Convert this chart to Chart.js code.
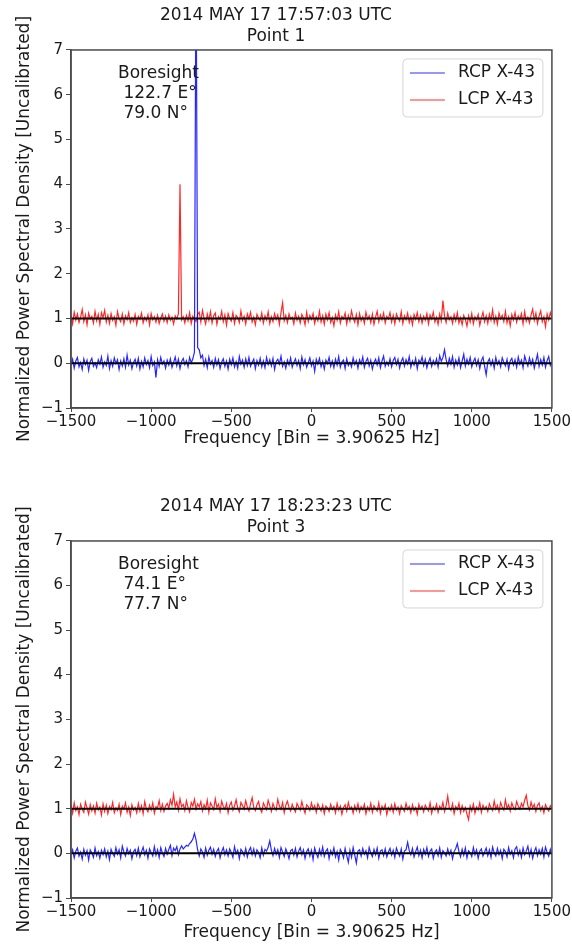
<!DOCTYPE html>
<html>
<head>
<meta charset="utf-8">
<script src="https://cdn.jsdelivr.net/npm/chart.js@4.4.1/dist/chart.umd.min.js"></script>
<style>
  body { margin: 0; background: #fff; }
  canvas { display: block; }
</style>
</head>
<body>
<canvas id="point1" width="572" height="470"></canvas>
<canvas id="point3" width="572" height="475"></canvas>
<script>
// frequency bins: -1500 .. 1500, one sample every 10 Hz
const binStart = -1500;
const binStep = 10;

const xTicks = [-1500, -1000, -500, 0, 500, 1000, 1500];
const yTicks = [-1, 0, 1, 2, 3, 4, 5, 6, 7];
const baselines = [0, 1];
const seriesLabels = ['RCP X-43', 'LCP X-43'];

const p1Title = ['2014 MAY 17 17:57:03 UTC', 'Point 1'];
const p1Boresight = ['Boresight', ' 122.7 E°', ' 79.0 N°'];
const p3Title = ['2014 MAY 17 18:23:23 UTC', 'Point 3'];
const p3Boresight = ['Boresight', ' 74.1 E°', ' 77.7 N°'];

// Point 1
const p1Rcp = [
  -0.04,0.09,-0.11,0.05,0.13,-0.08,0.02,-0.14,0.10,-0.03,0.07,-0.16,0.04,0.11,-0.07,0.01,-0.10,0.08,-0.02,0.14,
  -0.09,0.03,-0.05,0.16,-0.12,0.06,-0.07,0.12,-0.01,0.08,-0.14,0.05,-0.06,0.10,-0.09,0.18,-0.04,0.07,-0.12,0.02,
  0.09,-0.06,0.11,-0.13,0.04,-0.08,0.12,-0.03,0.06,-0.10,0.15,-0.05,0.03,-0.32,0.08,-0.07,0.13,-0.02,0.05,-0.11,
  0.07,-0.04,0.10,-0.09,0.02,0.14,-0.06,0.09,-0.12,0.04,0.11,-0.03,0.06,-0.08,0.13,0.01,0.10,0.25,9.50,0.35,
  0.30,0.12,0.18,-0.05,0.09,-0.10,0.14,-0.02,0.06,-0.09,0.11,-0.04,0.08,-0.12,0.03,0.10,-0.07,0.05,-0.13,0.09,
  -0.03,0.12,-0.08,0.04,-0.11,0.15,-0.02,0.07,-0.09,0.10,-0.05,0.13,-0.07,0.02,0.09,-0.12,0.06,-0.04,0.11,-0.08,
  0.05,-0.10,0.13,-0.03,0.08,-0.06,0.11,-0.14,0.04,0.09,-0.02,0.16,-0.07,0.03,-0.11,0.07,-0.04,0.12,-0.09,0.02,
  0.10,-0.05,0.06,-0.12,0.14,-0.03,0.08,-0.09,0.01,0.12,-0.06,0.05,-0.18,0.09,-0.02,0.11,-0.08,0.04,-0.13,0.07,
  -0.01,0.13,-0.07,0.05,-0.10,0.09,-0.04,0.15,-0.09,0.03,0.07,-0.12,0.10,-0.05,0.02,-0.08,0.12,-0.03,0.06,-0.11,
  0.08,-0.02,0.14,-0.09,0.04,0.11,-0.06,0.07,-0.13,0.02,0.09,-0.04,0.12,-0.10,0.05,0.16,-0.07,0.03,-0.05,0.10,
  -0.08,0.06,0.13,-0.03,0.09,-0.11,0.04,0.12,-0.06,0.08,-0.02,0.15,-0.09,0.05,-0.04,0.11,-0.12,0.07,0.01,0.14,
  -0.05,0.09,-0.10,0.03,0.12,-0.07,0.06,-0.03,0.10,-0.08,0.17,0.04,0.13,0.30,0.08,-0.06,0.11,-0.02,0.15,-0.09,
  0.07,-0.04,0.12,-0.10,0.05,0.20,-0.06,0.09,-0.02,0.13,-0.08,0.04,0.11,-0.05,0.08,-0.12,0.06,0.14,-0.07,-0.26,
  0.03,0.10,-0.05,0.07,-0.11,0.13,-0.03,0.06,-0.08,0.12,0.02,-0.06,0.09,-0.13,0.05,0.11,-0.04,0.08,-0.09,0.14,
  -0.02,0.07,-0.10,0.16,0.04,-0.06,0.12,-0.03,0.09,-0.11,0.05,0.20,-0.07,0.08,-0.04,0.13,-0.09,0.06,0.15,-0.05,
  0.03
];
const p1Lcp = [
  1.06,0.88,1.14,0.97,1.10,0.91,1.03,1.20,0.93,1.08,0.86,1.12,0.99,1.05,0.90,1.16,0.95,1.09,0.87,1.13,
  1.02,1.18,0.92,1.07,0.89,1.11,0.96,1.04,0.85,1.15,1.00,0.93,1.10,0.88,1.06,0.97,1.13,0.91,1.02,0.94,
  1.09,0.87,1.05,0.98,1.12,0.90,1.03,0.95,1.08,0.86,1.11,0.97,1.04,0.92,1.07,0.89,1.01,1.10,0.94,1.05,
  0.91,1.08,0.96,1.03,0.88,1.06,0.99,1.11,4.00,0.97,1.04,0.90,1.07,0.95,1.13,0.89,1.05,0.98,0.93,1.09,
  1.14,0.92,1.18,1.01,0.88,1.10,0.96,1.15,0.90,1.06,1.12,0.87,1.04,0.98,1.16,0.93,1.08,0.85,1.11,1.00,
  0.94,1.13,0.89,1.07,1.02,0.91,1.17,0.96,1.05,0.88,1.10,0.99,1.14,0.92,1.03,0.86,1.09,1.01,0.95,1.12,
  0.90,1.06,0.97,1.15,0.89,1.04,0.93,1.11,0.98,1.08,0.87,1.13,1.35,0.95,1.07,0.91,1.10,0.99,1.03,0.88,
  1.12,0.96,1.05,0.90,1.09,1.01,0.86,1.14,0.93,1.07,0.98,1.11,0.89,1.04,0.95,1.16,0.92,1.06,0.87,1.10,
  0.97,1.13,0.91,1.02,0.84,1.08,0.96,1.15,0.90,1.05,0.99,1.12,0.88,1.07,0.94,1.17,1.01,0.92,1.09,0.86,
  1.11,0.95,1.04,0.89,1.14,0.98,1.06,0.91,1.10,0.87,1.03,1.16,0.93,1.08,0.97,1.12,0.90,1.05,0.99,1.13,
  0.92,1.07,0.88,1.10,1.01,0.94,1.15,0.89,1.06,0.97,1.12,0.91,1.04,0.86,1.09,0.98,1.13,0.93,1.07,0.90,
  1.05,0.96,1.11,0.88,1.08,0.99,1.14,0.92,1.03,0.87,1.10,0.95,1.40,1.06,0.91,1.12,0.97,1.04,0.89,1.09,
  0.95,1.13,0.90,1.02,0.86,1.07,0.98,0.83,1.06,0.92,1.11,0.88,1.04,0.97,1.09,0.85,1.01,1.14,0.93,1.06,
  0.89,1.10,0.96,1.19,0.91,1.05,0.87,1.12,0.99,1.07,0.93,1.16,0.90,1.04,0.84,1.09,0.97,1.13,0.92,1.06,
  0.98,1.11,0.88,1.15,0.94,1.03,0.90,1.08,1.21,0.96,1.12,0.89,1.06,1.17,0.93,1.04,0.82,1.10,0.97,1.13,
  1.01
];

// Point 3
const p3Rcp = [
  -0.02,0.08,-0.10,0.05,0.12,-0.06,0.03,-0.13,0.09,-0.04,0.06,-0.15,0.08,0.01,-0.09,0.12,-0.05,0.04,-0.11,0.07,
  -0.03,0.10,-0.08,0.05,-0.14,0.09,0.00,-0.07,0.13,-0.02,0.08,-0.10,0.16,0.03,-0.06,0.11,-0.01,0.07,-0.12,0.04,
  0.09,-0.05,0.12,-0.08,0.04,0.14,-0.03,0.07,-0.11,0.10,0.02,-0.06,0.15,-0.04,0.08,-0.09,0.13,0.01,-0.07,0.11,
  -0.02,0.09,0.18,-0.05,0.12,0.06,0.15,-0.03,0.10,0.17,0.10,0.14,0.18,0.16,0.22,0.26,0.32,0.45,0.30,0.08,
  -0.06,0.10,0.03,-0.09,0.12,-0.04,0.07,0.14,-0.02,0.09,-0.07,0.05,0.11,-0.10,0.04,0.13,-0.03,0.08,-0.06,0.10,
  0.02,-0.09,0.15,-0.01,0.07,-0.12,0.09,0.04,-0.05,0.11,-0.08,0.06,0.13,-0.03,0.10,-0.06,0.08,0.02,-0.10,0.12,
  -0.04,0.09,0.05,0.14,0.28,0.07,-0.05,0.11,-0.02,0.08,-0.09,0.13,0.03,-0.07,0.10,0.01,-0.12,0.06,0.09,-0.04,
  0.11,-0.08,0.05,0.13,-0.03,0.08,-0.11,0.04,0.10,-0.06,0.07,-0.14,0.12,0.00,-0.09,0.09,-0.04,0.14,-0.07,0.05,
  0.10,-0.12,0.06,-0.03,0.12,-0.08,0.04,-0.15,0.09,0.02,-0.10,0.11,-0.05,-0.20,0.07,-0.09,0.13,-0.04,-0.22,0.05,
  0.08,-0.06,0.11,-0.02,0.06,-0.10,0.13,0.01,-0.07,0.09,-0.03,0.12,-0.11,0.05,0.08,-0.05,0.10,-0.08,0.03,0.11,
  -0.04,0.07,-0.09,0.12,0.02,-0.06,0.10,-0.13,0.05,0.08,0.25,0.06,-0.03,0.11,-0.08,0.04,0.14,-0.05,0.07,-0.10,
  0.09,-0.02,0.13,-0.07,0.05,0.10,-0.11,0.03,0.08,-0.05,0.12,-0.09,0.06,0.01,-0.06,0.10,-0.03,0.07,-0.12,0.04,
  0.11,0.22,0.04,-0.08,0.09,-0.04,0.12,-0.10,0.06,0.02,-0.07,0.13,-0.03,0.08,-0.11,0.05,0.10,-0.06,0.03,0.12,
  -0.05,0.08,-0.09,0.14,0.01,-0.06,0.11,-0.03,0.07,-0.12,0.09,0.04,-0.08,0.13,-0.02,0.06,-0.10,0.10,0.15,-0.04,
  0.07,-0.09,0.12,-0.03,0.05,0.16,-0.06,0.09,-0.11,0.04,0.13,-0.05,0.08,-0.02,0.11,-0.08,0.14,0.02,-0.06,0.09,
  -0.03
];
const p3Lcp = [
  1.07,0.90,1.13,0.96,1.04,0.87,1.10,0.99,0.92,1.15,1.02,0.88,1.09,0.95,1.06,0.90,1.12,0.97,1.04,0.86,
  1.11,0.94,1.08,0.89,1.05,0.98,1.14,0.91,1.02,0.96,1.10,0.87,1.06,0.99,1.13,0.92,1.04,0.85,1.09,0.97,
  1.03,0.91,1.12,0.95,1.07,0.89,1.16,1.00,0.93,1.08,0.97,1.13,0.90,1.05,1.02,1.18,0.96,1.10,0.94,1.06,
  1.12,1.01,1.20,1.08,1.32,1.04,1.15,0.97,1.22,1.05,1.10,0.96,1.18,1.03,0.93,1.14,1.06,1.21,0.99,1.11,
  1.04,1.16,0.95,1.09,1.00,1.19,0.92,1.13,1.06,0.98,1.22,1.03,1.10,0.94,1.17,1.05,0.99,1.12,0.91,1.08,
  1.15,0.97,1.06,1.20,1.02,0.93,1.14,1.07,0.99,1.18,1.04,0.95,1.11,1.25,1.03,0.96,1.09,1.16,1.00,0.92,
  1.13,1.05,0.98,1.19,1.07,0.94,1.12,1.02,0.97,1.21,1.06,0.99,1.14,0.91,1.08,1.17,1.03,0.95,1.10,1.00,
  0.93,1.12,1.04,0.97,1.16,1.01,0.90,1.09,1.05,0.96,1.13,0.99,1.07,0.92,1.11,1.03,0.95,1.08,0.89,1.06,
  1.02,0.94,1.10,0.98,1.05,0.91,1.12,0.97,1.06,0.88,1.03,1.09,0.95,1.14,0.99,1.04,0.90,1.07,0.96,1.11,
  0.93,1.05,0.98,1.10,0.89,1.04,0.96,1.12,0.92,1.07,1.00,0.95,1.13,0.90,1.06,0.98,1.09,0.87,1.03,0.96,
  1.08,0.92,1.11,0.97,1.04,0.89,1.07,1.00,0.94,1.12,0.98,1.05,0.91,1.09,0.96,1.03,0.88,1.10,0.99,1.06,
  0.93,1.08,1.01,0.95,1.13,0.90,1.04,0.97,1.10,0.92,1.06,0.99,1.14,0.94,1.07,1.28,1.02,0.96,1.11,0.89,
  1.05,0.98,1.12,0.91,1.07,0.94,1.03,0.88,0.76,1.06,0.95,1.10,0.90,1.04,0.97,1.13,0.92,1.08,0.99,1.05,
  0.94,1.11,1.02,0.96,1.17,0.99,1.08,0.93,1.14,1.04,0.97,1.20,1.01,1.09,0.95,1.13,1.03,0.98,1.16,1.06,
  0.99,1.12,1.04,1.19,1.30,1.07,0.97,1.15,1.02,1.10,0.94,1.08,1.13,0.96,1.05,0.91,1.09,1.01,0.95,1.07,
  1.02
];

const FONT = "'DejaVu Sans', sans-serif";
const AXIS_COLOR = '#4a4a4a';
const BLUE = 'rgba(0,0,255,0.85)';
const RED = 'rgba(255,0,0,0.85)';

const toPoints = arr => arr.map((v, i) => ({ x: binStart + i * binStep, y: v }));
const minus = v => (v < 0 ? '\u2212' + Math.abs(v) : String(v));

// frame, boresight note and inside legend
const decorations = {
  id: 'decorations',
  afterDraw(chart, args, opts) {
    const { ctx, chartArea: a } = chart;
    ctx.save();
    ctx.strokeStyle = AXIS_COLOR;
    ctx.lineWidth = 1.5;
    ctx.strokeRect(a.left, a.top, a.right - a.left, a.bottom - a.top);

    ctx.fillStyle = '#1a1a1a';
    ctx.font = '17px ' + FONT;
    ctx.textBaseline = 'middle';
    ctx.textAlign = 'left';
    opts.note.forEach((line, i) => ctx.fillText(line, a.left + 47, a.top + 24 + i * 20));

    // legend box
    const bw = 140, bh = 58;
    const bx = a.right - 9 - bw, by = a.top + 9;
    ctx.beginPath();
    ctx.roundRect(bx, by, bw, bh, 4);
    ctx.fillStyle = 'rgba(255,255,255,0.8)';
    ctx.fill();
    ctx.strokeStyle = '#d6d6d6';
    ctx.lineWidth = 1;
    ctx.stroke();
    const legendColors = ['rgba(0,0,255,0.55)', 'rgba(255,0,0,0.55)'];
    seriesLabels.forEach((label, i) => {
      const y = by + 14 + i * 27;
      ctx.strokeStyle = legendColors[i];
      ctx.lineWidth = 1.5;
      ctx.beginPath();
      ctx.moveTo(bx + 7, y);
      ctx.lineTo(bx + 42, y);
      ctx.stroke();
      ctx.fillStyle = '#1a1a1a';
      ctx.fillText(label, bx + 55, y);
    });
    ctx.restore();
  }
};

function makePlot(id, title, rcp, lcp, note, topPad, bottomPad, xHeight) {
  const baseData = baselines.map(v => ({
    data: [{ x: xTicks[0], y: v }, { x: xTicks[xTicks.length - 1], y: v }],
    borderColor: '#000',
    borderWidth: 2,
    pointRadius: 0,
    order: 0
  }));
  return new Chart(document.getElementById(id), {
    type: 'line',
    data: {
      datasets: [
        ...baseData,
        { label: seriesLabels[0], data: toPoints(rcp), borderColor: BLUE, borderWidth: 1.2, pointRadius: 0, order: 1 },
        { label: seriesLabels[1], data: toPoints(lcp), borderColor: RED, borderWidth: 1.2, pointRadius: 0, order: 2 }
      ]
    },
    options: {
      responsive: false,
      animation: false,
      layout: { padding: { left: 0, right: 20, top: 0, bottom: bottomPad } },
      plugins: {
        legend: { display: false },
        tooltip: { enabled: false },
        title: {
          display: true,
          text: title,
          color: '#1a1a1a',
          font: { family: FONT, size: 17, weight: 'normal', lineHeight: 1.22 },
          padding: { top: topPad, bottom: 3 }
        },
        decorations: { note: note }
      },
      scales: {
        x: {
          type: 'linear',
          min: xTicks[0],
          max: xTicks[xTicks.length - 1],
          afterBuildTicks: s => { s.ticks = xTicks.map(v => ({ value: v })); },
          afterFit: s => { s.height = xHeight; },
          ticks: {
            color: '#1a1a1a',
            font: { family: FONT, size: 15 },
            padding: 1,
            maxRotation: 0,
            autoSkip: false,
            callback: v => minus(v)
          },
          grid: { display: true, drawOnChartArea: false, tickLength: 4, color: AXIS_COLOR },
          border: { display: true, color: AXIS_COLOR, width: 1.5 },
          title: {
            display: true,
            text: 'Frequency [Bin = 3.90625 Hz]',
            color: '#1a1a1a',
            font: { family: FONT, size: 17 },
            padding: { top: 0, bottom: 0 }
          }
        },
        y: {
          min: yTicks[0],
          max: yTicks[yTicks.length - 1],
          afterBuildTicks: s => { s.ticks = yTicks.map(v => ({ value: v })); },
          afterFit: s => { s.width = 71; },
          ticks: {
            color: '#1a1a1a',
            font: { family: FONT, size: 15 },
            padding: 3,
            callback: v => minus(v)
          },
          grid: { display: true, drawOnChartArea: false, tickLength: 5, color: AXIS_COLOR },
          border: { display: true, color: AXIS_COLOR, width: 1.5 },
          title: {
            display: true,
            text: 'Normalized Power Spectral Density [Uncalibrated]',
            color: '#1a1a1a',
            font: { family: FONT, size: 17 },
            padding: { top: 14, bottom: 0 }
          }
        }
      }
    },
    plugins: [decorations]
  });
}

makePlot('point1', p1Title, p1Rcp, p1Lcp, p1Boresight, 5.5, 21, 41);
makePlot('point3', p3Title, p3Rcp, p3Lcp, p3Boresight, 26.5, 2, 45);
</script>
</body>
</html>
